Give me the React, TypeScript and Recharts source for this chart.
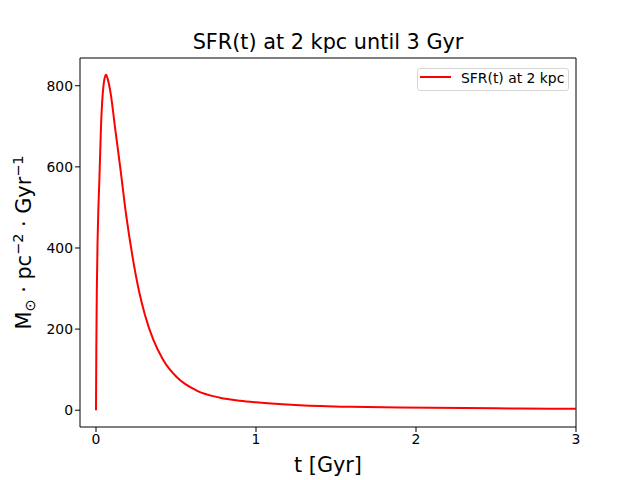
import { LineChart, Line, XAxis, YAxis, Legend, ReferenceLine } from 'recharts';

// time in Gyr, SFR in Msun pc^-2 Gyr^-1
const timeGyr = [
  0, 0.002, 0.005, 0.01, 0.015, 0.021, 0.031, 0.042, 0.052, 0.0625, 0.073, 0.092, 0.119, 0.154,
  0.1875, 0.229, 0.2687, 0.306, 0.358, 0.42, 0.504, 0.629, 0.775, 0.9, 1.0, 1.275, 1.59, 1.9,
  2.3, 2.65, 3.0,
];
const sfr = [
  0, 150, 290, 420, 500, 566, 697, 780, 815, 827, 817, 780, 697, 591,
  484, 377, 294, 235, 174, 124, 82, 48.5, 31, 23.5, 19.5, 12.5, 8.5, 6.6,
  5.2, 4.2, 3.4,
];
const xTicks = [0, 1, 2, 3];
const yTicks = [0, 200, 400, 600, 800];
const xDomain: [number, number] = [-0.1, 3];
const yDomain: [number, number] = [-41.35, 868.4];

const data = timeGyr.map((t, i) => ({ t, sfr: sfr[i] }));

const FONT = '"DejaVu Sans", sans-serif';
const tickStyle = { fill: '#000', fontSize: 13.9, fontFamily: FONT };

function TitleLabel(props: any) {
  const vb = props.viewBox || {};
  return (
    <text x={vb.x + vb.width / 2} y={vb.y - 9.5} textAnchor="middle" fontSize={20.8} fontFamily={FONT} fill="#000">
      SFR(t) at 2 kpc until 3 Gyr
    </text>
  );
}

function XLabel(props: any) {
  const vb = props.viewBox || {};
  return (
    <text x={vb.x + vb.width / 2} y={vb.y + 45} textAnchor="middle" fontSize={20.8} fontFamily={FONT} fill="#000">
      t [Gyr]
    </text>
  );
}

function YLabel(props: any) {
  const vb = props.viewBox || {};
  const cx = 31;
  const cy = vb.y + vb.height / 2;
  return (
    <text
      x={cx}
      y={cy}
      transform={`rotate(-90 ${cx} ${cy})`}
      textAnchor="middle"
      fontSize={20.8}
      fontFamily={FONT}
      fill="#000"
    >
      <tspan>M</tspan>
      <tspan fontSize={14.5} dy={4}>⊙</tspan>
      <tspan dy={-4}> · pc</tspan>
      <tspan fontSize={14.5} dy={-8}>−2</tspan>
      <tspan dy={8}> · Gyr</tspan>
      <tspan fontSize={14.5} dy={-8}>−1</tspan>
    </text>
  );
}

function LegendBox() {
  return (
    <div
      style={{
        position: 'relative',
        width: 150,
        height: 21,
        border: '1px solid #d6d6d6',
        borderRadius: 3,
        background: 'rgba(255,255,255,0.8)',
        fontFamily: FONT,
      }}
    >
      <svg width={32} height={4} style={{ position: 'absolute', left: 2, top: 6 }}>
        <line x1={0} y1={2} x2={31} y2={2} stroke="#ff0000" strokeWidth={2} />
      </svg>
      <span style={{ position: 'absolute', left: 43, top: 1, fontSize: 13.9, lineHeight: '16px', whiteSpace: 'nowrap', color: '#000' }}>
        SFR(t) at 2 kpc
      </span>
    </div>
  );
}

export default function App() {
  return (
    <div style={{ position: 'absolute', left: 0, top: 0, width: 640, height: 480, background: '#fff', fontFamily: FONT }}>
      <LineChart width={640} height={480} data={data} margin={{ top: 58, right: 64, bottom: 0, left: 20 }}>
        <XAxis
          dataKey="t"
          type="number"
          domain={xDomain}
          ticks={xTicks}
          allowDataOverflow
          height={53}
          tickSize={5}
          tick={tickStyle}
          axisLine={{ stroke: '#000' }}
          tickLine={{ stroke: '#000' }}
          label={{ content: XLabel }}
        />
        <YAxis
          type="number"
          domain={yDomain}
          ticks={yTicks}
          allowDataOverflow
          width={60}
          tickSize={5}
          tick={tickStyle}
          axisLine={{ stroke: '#000' }}
          tickLine={{ stroke: '#000' }}
          label={{ content: YLabel }}
        />
        {/* top and right spines */}
        <ReferenceLine y={yDomain[1]} stroke="#000" label={{ content: TitleLabel }} />
        <ReferenceLine x={xDomain[1]} stroke="#000" />
        <Legend
          layout="horizontal"
          verticalAlign="middle"
          align="center"
          wrapperStyle={{ left: 417, top: 68, width: 152, height: 23 }}
          content={LegendBox}
        />
        <Line
          type="monotone"
          dataKey="sfr"
          name="SFR(t) at 2 kpc"
          stroke="#ff0000"
          strokeWidth={2}
          dot={false}
          isAnimationActive={false}
        />
      </LineChart>
    </div>
  );
}
